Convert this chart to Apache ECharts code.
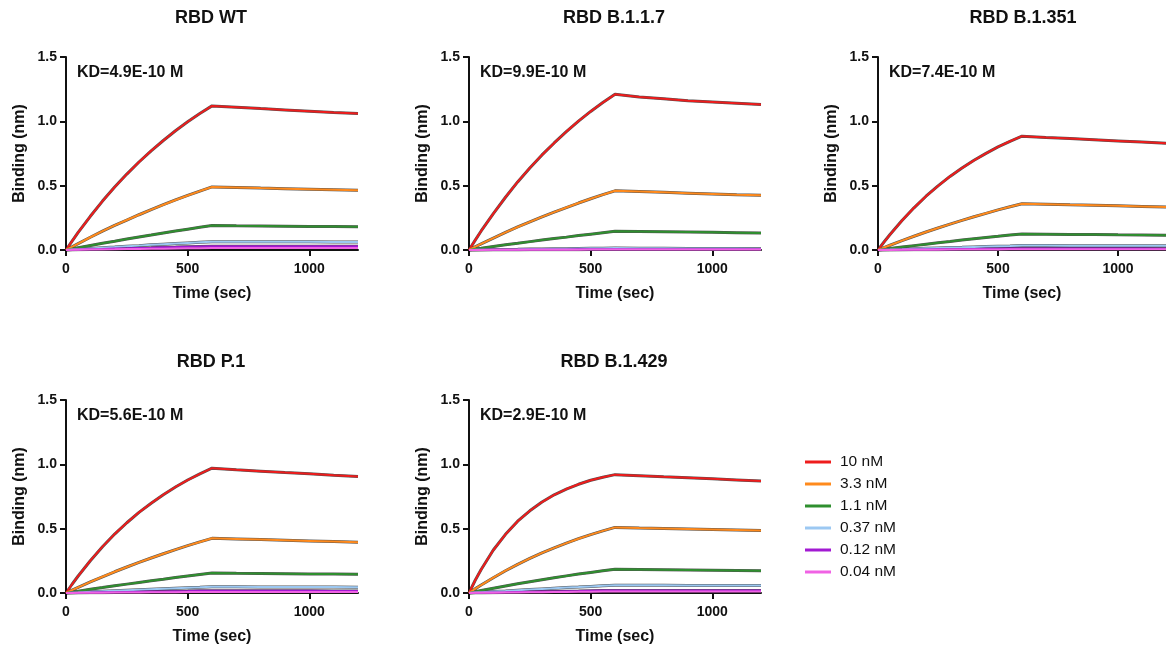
<!DOCTYPE html>
<html lang="en">
<head>
    <meta charset="UTF-8">
    <title>RBD binding kinetics</title>
    <style>
        *{ padding:0; margin:0; }
        body{ background:#fff; }
    </style>
    <script type="text/javascript" src="https://cdn.jsdelivr.net/npm/echarts@6/dist/echarts.min.js"></script>
</head>
<body>
    <div id="main" style="width:1166px;height:646px;"></div>
    <script type="text/javascript">
    var myChart = echarts.init(document.getElementById('main'));

    // sample times (sec)
    var times = [0, 25, 50, 100, 150, 200, 250, 300, 350, 400, 450, 500, 550, 600, 700, 800, 900, 1000, 1100, 1200];

    var concNames = ['10 nM', '3.3 nM', '1.1 nM', '0.37 nM', '0.12 nM', '0.04 nM'];
    var concColors = ['#ee1c1c', '#ff8a1c', '#2f8f2f', '#9cc8f2', '#a21ad2', '#f062e4'];

    var panelTitles = ['RBD WT', 'RBD B.1.1.7', 'RBD B.1.351', 'RBD P.1', 'RBD B.1.429'];
    var kdLabels = ['KD=4.9E-10 M', 'KD=9.9E-10 M', 'KD=7.4E-10 M', 'KD=5.6E-10 M', 'KD=2.9E-10 M'];

    // binding (nm), one row per concentration
    var wtVals = [
        [0, .069, .137, .262, .380, .489, .590, .684, .771, .851, .927, .997, 1.061, 1.12, 1.110, 1.099, 1.089, 1.079, 1.069, 1.06],
        [0, .025, .050, .099, .146, .191, .233, .274, .314, .352, .389, .424, .458, .49, .486, .481, .477, .473, .469, .465],
        [0, .009, .018, .035, .052, .068, .085, .101, .116, .132, .147, .162, .176, .19, .188, .187, .185, .183, .182, .18],
        [0, .003, .006, .012, .018, .023, .029, .034, .040, .045, .050, .055, .060, .065, .065, .065, .064, .064, .063, .063],
        [0, .001, .003, .006, .008, .011, .013, .016, .018, .021, .023, .026, .028, .03, .03, .03, .03, .029, .029, .029],
        [0, .001, .001, .003, .004, .005, .007, .008, .009, .010, .012, .013, .014, .015, .015, .015, .015, .015, .015, .015]
    ];
    var b117Vals = [
        [0, .075, .148, .283, .410, .529, .638, .739, .832, .920, 1.002, 1.077, 1.146, 1.21, 1.19, 1.175, 1.16, 1.15, 1.14, 1.13],
        [0, .024, .047, .093, .137, .179, .219, .257, .294, .330, .365, .398, .430, .46, .454, .448, .442, .436, .430, .425],
        [0, .007, .013, .027, .040, .052, .065, .077, .089, .100, .112, .123, .134, .145, .143, .141, .139, .137, .135, .133],
        [0, .001, .001, .003, .004, .005, .007, .008, .009, .010, .012, .013, .014, .015, .014, .013, .012, .012, .011, .01],
        [0, 0, .001, .001, .002, .002, .003, .003, .004, .004, .005, .005, .006, .006, .006, .006, .006, .006, .006, .006],
        [0, 0, 0, .001, .001, .001, .001, .002, .002, .002, .002, .003, .003, .003, .003, .003, .003, .003, .003, .003]
    ];
    var b1351Vals = [
        [0, .062, .120, .229, .328, .418, .498, .572, .637, .697, .751, .801, .845, .885, .875, .866, .857, .848, .839, .83],
        [0, .019, .037, .073, .107, .140, .171, .201, .230, .258, .285, .312, .336, .36, .356, .351, .347, .343, .339, .335],
        [0, .006, .012, .023, .034, .045, .056, .066, .077, .087, .097, .106, .116, .125, .123, .121, .120, .118, .117, .115],
        [0, .002, .003, .006, .010, .013, .016, .019, .021, .024, .027, .030, .032, .035, .035, .034, .034, .034, .033, .033],
        [0, .001, .001, .002, .003, .004, .005, .006, .007, .008, .009, .010, .011, .012, .012, .012, .011, .011, .011, .01],
        [0, 0, 0, .001, .001, .002, .002, .003, .003, .003, .004, .004, .005, .005, .005, .005, .005, .005, .005, .005]
    ];
    var p1Vals = [
        [0, .068, .132, .251, .360, .458, .546, .627, .698, .764, .824, .878, .926, .97, .958, .947, .936, .926, .915, .905],
        [0, .022, .044, .086, .126, .165, .202, .238, .272, .305, .337, .368, .397, .425, .420, .415, .410, .405, .400, .395],
        [0, .007, .014, .029, .042, .056, .069, .082, .095, .107, .120, .132, .144, .155, .153, .152, .150, .148, .147, .145],
        [0, .002, .004, .009, .013, .017, .021, .025, .029, .033, .037, .041, .044, .048, .048, .047, .047, .046, .046, .045],
        [0, .001, .002, .003, .005, .006, .008, .010, .011, .012, .014, .015, .017, .018, .018, .017, .017, .017, .016, .016],
        [0, 0, .001, .001, .002, .003, .004, .004, .005, .006, .006, .007, .007, .008, .008, .008, .008, .008, .008, .008]
    ];
    var b1429Vals = [
        [0, .097, .183, .334, .456, .558, .639, .707, .763, .808, .845, .876, .900, .92, .912, .903, .895, .887, .879, .87],
        [0, .032, .062, .119, .173, .223, .269, .312, .351, .388, .422, .454, .483, .51, .505, .501, .497, .493, .489, .485],
        [0, .010, .019, .037, .055, .072, .088, .103, .118, .133, .147, .160, .173, .185, .183, .181, .179, .177, .175, .173],
        [0, .003, .006, .011, .016, .022, .027, .032, .037, .042, .046, .051, .056, .06, .06, .06, .059, .059, .058, .058],
        [0, .001, .002, .004, .005, .007, .009, .011, .012, .014, .015, .017, .019, .02, .02, .02, .02, .019, .019, .019],
        [0, .001, .001, .002, .003, .004, .005, .006, .007, .008, .009, .010, .011, .012, .012, .012, .012, .012, .012, .012]
    ];

    var xTicks = [0, 500, 1000];

    var panelVals = [wtVals, b117Vals, b1351Vals, p1Vals, b1429Vals];
    // plot box of each panel in pixels
    var boxes = [
        { left: 66, top: 57 },
        { left: 469, top: 57 },
        { left: 878, top: 57 },
        { left: 66, top: 400 },
        { left: 469, top: 400 }
    ];
    var plotW = 292, plotH = 193;
    var fontFam = '"Liberation Sans", Arial, Helvetica, sans-serif';

    var grids = [], xAxes = [], yAxes = [], series = [], graphics = [];

    boxes.forEach(function (b, i) {
        grids.push({ left: b.left, top: b.top, width: plotW, height: plotH });
        xAxes.push({
            type: 'value', gridIndex: i, min: 0, max: 1200,
            name: 'Time (sec)', nameLocation: 'middle', nameGap: 36,
            nameTextStyle: { fontFamily: fontFam, fontWeight: 'bold', fontSize: 16, color: '#111' },
            axisLine: { show: true, lineStyle: { color: '#111', width: 2 } },
            axisTick: { show: true, length: 6, customValues: xTicks, lineStyle: { color: '#111', width: 2 } },
            axisLabel: {
                customValues: xTicks, margin: 12, fontFamily: fontFam, fontWeight: 'bold', fontSize: 14, color: '#111',
                formatter: function (v) { return String(v); }
            },
            splitLine: { show: false }
        });
        yAxes.push({
            type: 'value', gridIndex: i, min: 0, max: 1.5, interval: 0.5,
            name: 'Binding (nm)', nameLocation: 'middle', nameGap: 38,
            nameTextStyle: { fontFamily: fontFam, fontWeight: 'bold', fontSize: 16, color: '#111' },
            axisLine: { show: true, lineStyle: { color: '#111', width: 2 } },
            axisTick: { show: true, length: 6, lineStyle: { color: '#111', width: 2 } },
            axisLabel: {
                margin: 9, fontFamily: fontFam, fontWeight: 'bold', fontSize: 14, color: '#111',
                formatter: function (v) { return v.toFixed(1); }
            },
            splitLine: { show: false }
        });

        var vals = panelVals[i];
        vals.forEach(function (row, j) {
            var pts = times.map(function (t, k) { return [t, row[k]]; });
            // black global fit under the measured trace
            series.push({
                name: 'fit', type: 'line', xAxisIndex: i, yAxisIndex: i,
                data: pts, symbol: 'none', silent: true, z: 2,
                lineStyle: { color: '#1a1a1a', width: 3, opacity: 0.75 }
            });
            series.push({
                name: concNames[j], type: 'line', xAxisIndex: i, yAxisIndex: i,
                data: pts, symbol: 'none', silent: true, z: 3,
                itemStyle: { color: concColors[j] },
                lineStyle: { color: concColors[j], width: 2 }
            });
        });

        graphics.push({
            type: 'text', x: b.left + 145, y: b.top - (i < 3 ? 39 : 38),
            style: { text: panelTitles[i], fill: '#111', font: 'bold 18px ' + fontFam, textAlign: 'center', textVerticalAlign: 'middle' }
        });
        graphics.push({
            type: 'text', x: b.left + 11, y: b.top + 16,
            style: { text: kdLabels[i], fill: '#111', font: 'bold 16px ' + fontFam, textAlign: 'left', textVerticalAlign: 'middle' }
        });
    });

    var option = {
        animation: false,
        backgroundColor: '#fff',
        grid: grids,
        xAxis: xAxes,
        yAxis: yAxes,
        legend: {
            data: concNames,
            orient: 'vertical',
            left: 800, top: 449,
            itemWidth: 26, itemHeight: 3, itemGap: 6,
            icon: 'rect',
            textStyle: { fontFamily: fontFam, fontSize: 15.5, color: '#111', padding: [0, 0, 0, 4] }
        },
        graphic: graphics,
        series: series
    };

    myChart.setOption(option);
    </script>
</body>
</html>
